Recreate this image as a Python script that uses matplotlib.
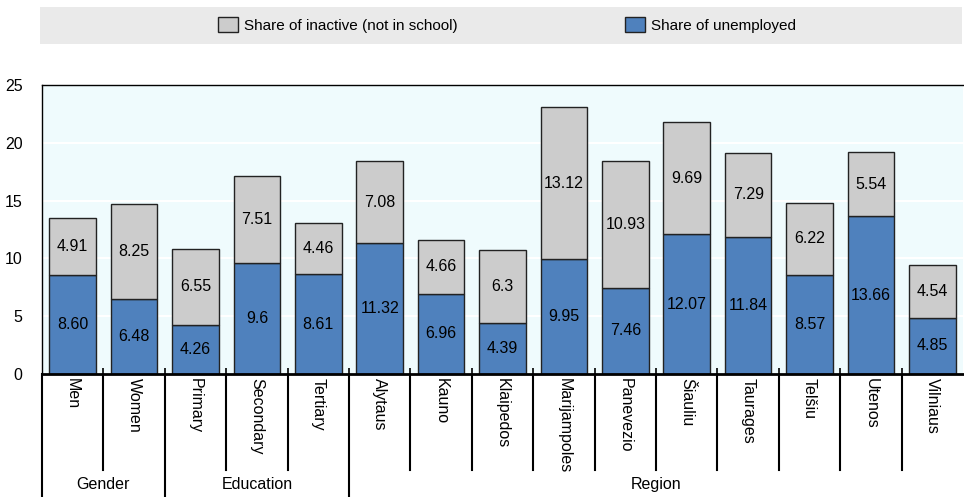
import matplotlib.pyplot as plt
import matplotlib.transforms as mtransforms
from matplotlib.patches import Rectangle, Patch

plt.rcParams['font.family'] = ['Liberation Sans Narrow', 'Liberation Sans', 'DejaVu Sans']

categories = ['Men', 'Women', 'Primary', 'Secondary', 'Tertiary', 'Alytaus', 'Kauno',
              'Klaipedos', 'Marijampoles', 'Panevezio', 'Šiauliu', 'Taurages', 'Telšiu',
              'Utenos', 'Vilniaus']
unemployed_txt = ['8.60', '6.48', '4.26', '9.6', '8.61', '11.32', '6.96', '4.39', '9.95',
                  '7.46', '12.07', '11.84', '8.57', '13.66', '4.85']
inactive_txt = ['4.91', '8.25', '6.55', '7.51', '4.46', '7.08', '4.66', '6.3', '13.12',
                '10.93', '9.69', '7.29', '6.22', '5.54', '4.54']
groups = ['Gender', 'Education', 'Region']
group_sizes = [2, 3, 10]

unemployed = [float(v) for v in unemployed_txt]
inactive = [float(v) for v in inactive_txt]
x = list(range(len(categories)))

blue = '#4F81BD'
grey = '#CCCCCC'

fig = plt.figure(figsize=(9.64, 4.97), dpi=100)
ax = fig.add_axes([42/964, 1 - 374/497, 1 - 42/964 - 0.001, (374 - 85)/497])
ax.set_facecolor('#EFFBFD')
ax.grid(axis='y', color='white', linewidth=1.5)
ax.set_axisbelow(True)

ax.bar(x, unemployed, width=0.76, color=blue, edgecolor='#222222', linewidth=1)
ax.bar(x, inactive, width=0.76, bottom=unemployed, color=grey, edgecolor='#222222', linewidth=1)

for i in x:
    ax.text(i, unemployed[i] / 2, unemployed_txt[i], ha='center', va='center', fontsize=11.5)
    ax.text(i, unemployed[i] + inactive[i] / 2, inactive_txt[i], ha='center', va='center', fontsize=11.5)

ax.set_xlim(-0.5, len(categories) - 0.5)
ax.set_ylim(0, 25)
ax.set_yticks([0, 5, 10, 15, 20, 25])
ax.tick_params(axis='y', length=0, labelsize=11.5, pad=14)
ax.set_xticks(x)
ax.set_xticklabels(categories, rotation=-90, va='top', fontsize=11.5)
ax.tick_params(axis='x', length=0, pad=3)
ax.set_xticks([i - 0.5 for i in range(1, len(categories))], minor=True)
ax.tick_params(axis='x', which='minor', direction='inout', length=8, width=1.2)

for s in ax.spines.values():
    s.set_linewidth(1)
ax.spines['bottom'].set_linewidth(2)
ax.spines['right'].set_visible(False)

# separators under the axis
trans = mtransforms.blended_transform_factory(ax.transData, ax.transAxes)
bounds = [-0.5]
for n in group_sizes:
    bounds.append(bounds[-1] + n)
for b in [i - 0.5 for i in range(len(categories))]:
    if b in bounds:
        ax.plot([b, b], [0, -0.4256], transform=trans, color='black', lw=1.5, clip_on=False)
    else:
        ax.plot([b, b], [0, -0.332], transform=trans, color='black', lw=1.5, clip_on=False)
for g, lo, hi in zip(groups, bounds[:-1], bounds[1:]):
    ax.text((lo + hi) / 2, -0.384, g, transform=trans, ha='center', va='center', fontsize=11.5)

# legend band
fig.patches.append(Rectangle((40/964, 1 - 44/497), 922/964, 37/497, transform=fig.transFigure,
                             facecolor='#EAEAEA', edgecolor='none', zorder=0))
handles = [Patch(facecolor=grey, edgecolor='#222222'), Patch(facecolor=blue, edgecolor='#222222')]
fig.legend(handles, ['Share of inactive (not in school)', 'Share of unemployed'], loc='center',
           bbox_to_anchor=(0.526, 1 - 25/497), ncol=2, frameon=False, fontsize=11,
           handlelength=1.3, handleheight=1.1, handletextpad=0.4, columnspacing=11)

fig.savefig('out.png', dpi=100)
